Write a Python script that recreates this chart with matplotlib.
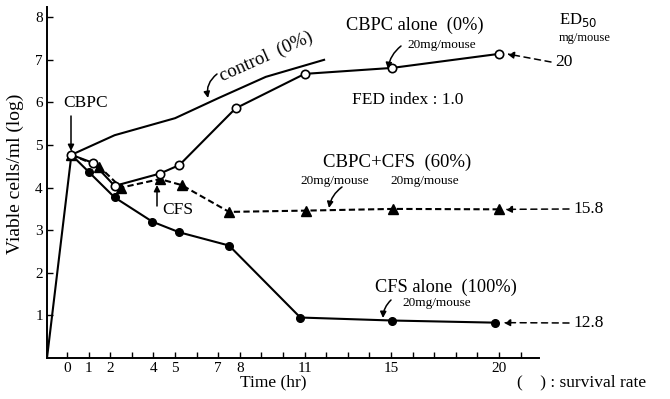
import matplotlib
matplotlib.use("Agg")
import matplotlib.pyplot as plt

plt.rcParams['font.family'] = ['Liberation Serif', 'DejaVu Serif']

# ---- data ----
inoc_x = [-0.93, 0.2]
inoc_y = [0.0, 4.77]

control_x = [0.2, 2.2, 5.0, 7.0, 9.2, 11.9]
control_y = [4.77, 5.23, 5.63, 6.1, 6.6, 7.0]

cbpc_x = [0.2, 1.2, 2.2, 4.3, 5.2, 7.8, 11.0, 15.05, 20.0]
cbpc_y = [4.77, 4.58, 4.04, 4.33, 4.53, 5.86, 6.67, 6.81, 7.14]

combo_x = [0.2, 1.5, 2.5, 4.3, 5.3, 7.5, 11.05, 15.1, 20.0]
combo_y = [4.77, 4.49, 4.0, 4.2, 4.06, 3.43, 3.46, 3.5, 3.49]

cfs_x = [0.2, 1.0, 2.2, 3.95, 5.2, 7.5, 10.8, 15.05, 19.8]
cfs_y = [4.77, 4.37, 3.77, 3.2, 2.95, 2.64, 0.95, 0.88, 0.83]

x_ticks = list(range(0, 22))
x_labels = ['0', '1', '2', '4', '5', '7', '8', '11', '15', '20']
y_ticks = [1, 2, 3, 4, 5, 6, 7, 8]
ed50_labels = ['20', '15.8', '12.8']

W, H = 670, 399
fig = plt.figure(figsize=(W / 100, H / 100), dpi=100)
ax = fig.add_axes([47 / W, 41 / H, 492 / W, 351 / H])
ax.set_xlim(-0.93, 21.85)
ax.set_ylim(0, 8.24)

for s in ['top', 'right']:
    ax.spines[s].set_visible(False)
for s in ['left', 'bottom']:
    ax.spines[s].set_linewidth(1.4)

ax.set_xticks(x_ticks)
ax.set_xticklabels([str(t) if str(t) in x_labels else '' for t in x_ticks])
ax.set_yticks(y_ticks)
ax.set_yticklabels([str(t) for t in y_ticks])
ax.tick_params(direction='in', length=4, width=1.0, labelsize=11, pad=3)

lw = 1.5
ax.plot(inoc_x, inoc_y, color='black', lw=lw)
ax.plot(control_x, control_y, color='black', lw=lw)
ax.plot(cfs_x, cfs_y, color='black', lw=lw, marker='o', ms=5.5,
        mfc='black', mec='black')
ax.plot(combo_x, combo_y, color='black', lw=lw, ls=(0, (3, 1.6)),
        marker='^', ms=7, mfc='black', mec='black')
ax.plot(cbpc_x, cbpc_y, color='black', lw=lw, marker='o', ms=6,
        mfc='white', mec='black', mew=1.2)


def P(px, py):
    return (px / W, 1 - py / H)


def txt(px, py, s, size=12.5, ha='left', va='center', **kw):
    fig.text(*P(px, py), s, fontsize=size, ha=ha, va=va, **kw)


# axis labels
txt(273, 382, 'Time (hr)', size=12.5, ha='center')
txt(517, 382, '(    ) : survival rate', size=12.5)
txt(15, 174, 'Viable cells/ml (log)', size=14, ha='center', rotation=90)

# series labels
txt(346, 25, 'CBPC alone  (0%)', size=13.2)
txt(407, 45, '20mg/mouse', size=9.5)
txt(352, 100, 'FED index : 1.0', size=12.5)
txt(323, 162, 'CBPC+CFS  (60%)', size=13.5)
txt(300, 181, '20mg/mouse', size=9.5)
txt(390, 181, '20mg/mouse', size=9.5)
txt(375, 287, 'CFS alone  (100%)', size=13.2)
txt(402, 303, '20mg/mouse', size=9.5)
txt(559, 20, r'ED$_{50}$', size=12)
txt(559, 38, 'mg/mouse', size=9)
fig.text(*P(266, 57), 'control  (0%)', fontsize=13.5, ha='center',
         va='center', rotation=24)
txt(63, 103, 'CBPC', size=12.5)
txt(162, 210, 'CFS', size=12.5)

# ED50 values with dashed arrows
ed_py = [62, 209, 323]
ed_px = [555, 573, 573]
ed_head = [20.37, 20.28, 20.2]
ed_val = [cbpc_y[-1], combo_y[-1], cfs_y[-1]]
for lab, py, px, hx, vy in zip(ed50_labels, ed_py, ed_px, ed_head, ed_val):
    txt(px, py, lab, size=12.5)
    ax.annotate('', xy=(hx, vy), xycoords='data',
                xytext=P(px - 4, py), textcoords='figure fraction',
                arrowprops=dict(arrowstyle='-|>', color='black', lw=1.1,
                                ls=(0, (4, 3)), mutation_scale=10,
                                shrinkA=0, shrinkB=0))

# pointer arrows
solid = dict(arrowstyle='-|>', color='black', lw=1.1, mutation_scale=9,
             shrinkA=0, shrinkB=0)
ax.annotate('', xy=P(71, 151), xycoords='figure fraction', xytext=P(71, 116),
            textcoords='figure fraction', arrowprops=solid)
ax.annotate('', xy=P(157, 185), xycoords='figure fraction', xytext=P(157, 206),
            textcoords='figure fraction', arrowprops=solid)
ax.annotate('', xy=P(208, 98), xycoords='figure fraction', xytext=P(217, 74),
            textcoords='figure fraction',
            arrowprops=dict(solid, connectionstyle='arc3,rad=0.3'))
ax.annotate('', xy=P(388, 69), xycoords='figure fraction', xytext=P(401, 46),
            textcoords='figure fraction',
            arrowprops=dict(solid, connectionstyle='arc3,rad=0.2'))
ax.annotate('', xy=P(329, 208), xycoords='figure fraction', xytext=P(342, 187),
            textcoords='figure fraction',
            arrowprops=dict(solid, connectionstyle='arc3,rad=0.2'))
ax.annotate('', xy=P(383, 318), xycoords='figure fraction', xytext=P(391, 300),
            textcoords='figure fraction',
            arrowprops=dict(solid, connectionstyle='arc3,rad=0.2'))

fig.savefig('out.png', dpi=100)
